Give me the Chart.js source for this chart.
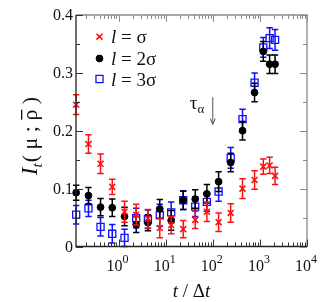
<!DOCTYPE html>
<html><head><meta charset="utf-8">
<script src="https://cdn.jsdelivr.net/npm/chart.js@4.4.1/dist/chart.umd.min.js"></script>
<style>html,body{margin:0;padding:0;background:#fff;overflow:hidden;} #wrap{width:327px;height:302px;position:relative;}</style>
</head><body><div id="wrap"><canvas id="c" width="327" height="302"></canvas></div>
<script>
// ---- data ----
const times = [0.126, 0.23, 0.415, 0.735, 1.34, 2.37, 4.2, 7.5, 13.1, 23.6, 42.4, 75, 133, 240, 428, 771, 1180, 1610, 2100];
const seriesLabels = ['σ', '2σ', '3σ'];
const valuesL1 = [0.245, 0.177, 0.143, 0.103, 0.060, 0.055, 0.048, 0.032, 0.037, 0.030, 0.046, 0.060, 0.042, 0.058, 0.100, 0.115, 0.138, 0.140, 0.122];
const errorsL1 = [0.017, 0.016, 0.017, 0.013, 0.018, 0.018, 0.016, 0.017, 0.015, 0.015, 0.015, 0.017, 0.016, 0.016, 0.017, 0.016, 0.013, 0.014, 0.015];
const valuesL2 = [0.093, 0.088, 0.068, 0.067, 0.052, 0.038, 0.041, 0.065, 0.045, 0.080, 0.082, 0.091, 0.112, 0.145, 0.200, 0.266, 0.337, 0.315, 0.315];
const errorsL2 = [0.013, 0.014, 0.015, 0.015, 0.016, 0.014, 0.014, 0.016, 0.017, 0.016, 0.016, 0.016, 0.017, 0.016, 0.016, 0.016, 0.017, 0.016, 0.016];
const valuesL3 = [0.055, 0.066, 0.034, 0.022, 0.015, 0.049, 0.047, 0.054, 0.059, 0.080, 0.069, 0.077, 0.095, 0.153, 0.220, 0.283, 0.344, 0.360, 0.357];
const errorsL3 = [0.016, 0.014, 0.016, 0.016, 0.015, 0.017, 0.016, 0.019, 0.018, 0.016, 0.017, 0.016, 0.017, 0.018, 0.017, 0.017, 0.017, 0.018, 0.018];
const xTickExponents = [0, 1, 2, 3, 4];
const yTickValues = [0, 0.1, 0.2, 0.3, 0.4];
const yTickLabels = ['0', '0.1', '0.2', '0.3', '0.4'];
const tauAlpha = 100;
const tauArrowFrom = 0.258, tauArrowTo = 0.211;

const serif = '"Liberation Serif", "DejaVu Serif", serif';
const colors = ['#ff1010', '#000000', '#1010ff'];
const styles = [
  {pointStyle: 'crossRot', radius: 4.2, borderWidth: 1.6},
  {pointStyle: 'circle', radius: 3.4, borderWidth: 1},
  {pointStyle: 'rect', radius: 5, borderWidth: 1.3}
];
const allValues = [valuesL1, valuesL2, valuesL3];
const allErrors = [errorsL1, errorsL2, errorsL3];

const datasets = allValues.map((vals, i) => ({
  label: seriesLabels[i],
  data: times.map((t, j) => ({x: t, y: vals[j]})),
  borderColor: colors[i],
  backgroundColor: i === 1 ? colors[i] : 'rgba(0,0,0,0)',
  pointStyle: styles[i].pointStyle,
  pointRadius: styles[i].radius,
  pointBorderWidth: styles[i].borderWidth,
  showLine: false,
  clip: false
}));

const errPlugin = {
  id: 'errbars',
  beforeDatasetDraw(chart, args) {
    const i = args.index;
    const {ctx, scales: {x, y}} = chart;
    ctx.save();
    ctx.strokeStyle = colors[i];
    ctx.lineWidth = 1.5;
    times.forEach((t, j) => {
      const px = x.getPixelForValue(t);
      const yt = y.getPixelForValue(allValues[i][j] + allErrors[i][j]);
      const yb = y.getPixelForValue(allValues[i][j] - allErrors[i][j]);
      ctx.beginPath();
      ctx.moveTo(px, yt); ctx.lineTo(px, yb);
      ctx.moveTo(px - 3.2, yt); ctx.lineTo(px + 3.2, yt);
      ctx.moveTo(px - 3.2, yb); ctx.lineTo(px + 3.2, yb);
      ctx.stroke();
    });
    ctx.restore();
  }
};

function drawPieces(ctx, pieces, x0, y0) {
  let x = x0;
  pieces.forEach(p => {
    ctx.font = p.font;
    ctx.fillText(p.t, x, y0 + (p.dy || 0));
    x += ctx.measureText(p.t).width + (p.gap || 0);
  });
  return x;
}
function piecesWidth(ctx, pieces) {
  let w = 0;
  pieces.forEach(p => { ctx.font = p.font; w += ctx.measureText(p.t).width + (p.gap || 0); });
  return w;
}

const framePlugin = {
  id: 'frame',
  afterDraw(chart) {
    const {ctx, chartArea: a, scales: {x, y}} = chart;
    ctx.save();
    // frame
    ctx.lineWidth = 1.3;
    ctx.strokeStyle = '#8a8a8a';
    ctx.beginPath();
    ctx.moveTo(a.left, a.top); ctx.lineTo(a.right, a.top); ctx.lineTo(a.right, a.bottom);
    ctx.stroke();
    ctx.strokeStyle = '#222';
    ctx.beginPath();
    ctx.moveTo(a.left, a.top); ctx.lineTo(a.left, a.bottom); ctx.lineTo(a.right, a.bottom);
    ctx.stroke();
    // y ticks (major 0.1, minor 0.05), both sides inward
    ctx.lineWidth = 1;
    for (let k = 0; k <= 8; k++) {
      const v = k * 0.05;
      const py = Math.round(y.getPixelForValue(v)) + 0.5;
      const len = (k % 2 === 0) ? 7 : 4;
      ctx.strokeStyle = '#333';
      ctx.beginPath(); ctx.moveTo(a.left, py); ctx.lineTo(a.left + len, py); ctx.stroke();
      ctx.strokeStyle = '#8a8a8a';
      ctx.beginPath(); ctx.moveTo(a.right, py); ctx.lineTo(a.right - len, py); ctx.stroke();
    }
    // x log ticks
    for (let d = -1; d <= 4; d++) {
      for (let m = 1; m <= 9; m++) {
        const v = m * Math.pow(10, d);
        if (v < x.min * 0.999 || v > x.max * 1.001) continue;
        const px = Math.round(x.getPixelForValue(v)) + 0.5;
        const len = m === 1 ? 7 : 4;
        ctx.strokeStyle = '#333';
        ctx.beginPath(); ctx.moveTo(px, a.bottom); ctx.lineTo(px, a.bottom - len); ctx.stroke();
        ctx.strokeStyle = '#8a8a8a';
        ctx.beginPath(); ctx.moveTo(px, a.top); ctx.lineTo(px, a.top + len); ctx.stroke();
      }
    }
    // y tick labels
    ctx.fillStyle = '#111';
    ctx.font = '16px ' + serif;
    ctx.textAlign = 'right';
    ctx.textBaseline = 'middle';
    yTickValues.forEach((v, k) => {
      ctx.fillText(yTickLabels[k], a.left - 3, y.getPixelForValue(v) + 1);
    });
    // x tick labels 10^n
    ctx.textAlign = 'left';
    ctx.textBaseline = 'alphabetic';
    xTickExponents.forEach(e => {
      const px = x.getPixelForValue(Math.pow(10, e));
      const pieces = [{t: '10', font: '16px ' + serif}, {t: String(e), font: '12px ' + serif, dy: -8}];
      const w = piecesWidth(ctx, pieces);
      drawPieces(ctx, pieces, px - w / 2 - 1, 271);
    });
    // x axis title
    {
      const pieces = [{t: 't', font: 'italic 19px ' + serif}, {t: ' / Δ', font: '19px ' + serif}, {t: 't', font: 'italic 19px ' + serif}];
      const w = piecesWidth(ctx, pieces);
      drawPieces(ctx, pieces, (a.left + a.right) / 2 - w / 2, 297);
    }
    // y axis title
    {
      ctx.save();
      ctx.translate(37, 136);
      ctx.rotate(-Math.PI / 2);
      const pieces = [
        {t: 'I', font: 'italic 23px ' + serif},
        {t: 't', font: 'italic 15px ' + serif, dy: 5, gap: 1},
        {t: '( ', font: '22px ' + serif},
        {t: 'μ', font: '22px ' + serif},
        {t: ' ; ', font: '22px ' + serif},
        {t: 'ρ', font: '22px ' + serif},
        {t: ' )', font: '22px ' + serif}
      ];
      const w = piecesWidth(ctx, pieces);
      let xx = -w / 2;
      pieces.forEach(p => {
        ctx.font = p.font;
        ctx.fillText(p.t, xx, (p.dy || 0));
        const pw = ctx.measureText(p.t).width;
        if (p.t === 'ρ') {
          ctx.fillRect(xx + 1, -16, pw - 1, 1.3);
        }
        xx += pw + (p.gap || 0);
      });
      ctx.restore();
    }
    // tau alpha annotation
    {
      const px = x.getPixelForValue(tauAlpha);
      const y1 = y.getPixelForValue(tauArrowFrom), y2 = y.getPixelForValue(tauArrowTo);
      ctx.strokeStyle = '#555';
      ctx.lineWidth = 1;
      ctx.beginPath(); ctx.moveTo(px, y1); ctx.lineTo(px, y2); ctx.stroke();
      ctx.beginPath(); ctx.moveTo(px - 2.5, y2 - 6); ctx.lineTo(px, y2); ctx.lineTo(px + 2.5, y2 - 6); ctx.stroke();
      ctx.fillStyle = '#111';
      ctx.textAlign = 'left';
      drawPieces(ctx, [{t: 'τ', font: '19px ' + serif}, {t: 'α', font: '13px ' + serif, dy: 4}], px - 23, y1 + 12);
    }
    // legend
    ctx.textAlign = 'left';
    ctx.textBaseline = 'alphabetic';
    const legY = [36.7, 58.5, 79];
    seriesLabels.forEach((lab, i) => {
      ctx.save();
      ctx.strokeStyle = colors[i];
      ctx.fillStyle = i === 1 ? colors[i] : 'rgba(0,0,0,0)';
      ctx.lineWidth = styles[i].borderWidth;
      Chart.helpers.drawPoint(ctx, {pointStyle: styles[i].pointStyle, radius: styles[i].radius, borderWidth: styles[i].borderWidth, rotation: 0}, 99.5, legY[i]);
      ctx.restore();
      ctx.fillStyle = '#111';
      drawPieces(ctx, [{t: 'l', font: 'italic 19px ' + serif}, {t: ' = ' + lab, font: '19px ' + serif}], 111, legY[i] + 6.5);
    });
    ctx.restore();
  }
};

new Chart(document.getElementById('c'), {
  type: 'scatter',
  data: {datasets},
  options: {
    responsive: false,
    animation: false,
    devicePixelRatio: 1,
    layout: {padding: {left: 76, right: 20, top: 15, bottom: 55.5}},
    plugins: {legend: {display: false}, tooltip: {enabled: false}},
    scales: {
      x: {type: 'logarithmic', min: 0.125, max: 10000, display: false},
      y: {type: 'linear', min: 0, max: 0.4, display: false}
    }
  },
  plugins: [errPlugin, framePlugin]
});
</script>
</body></html>
